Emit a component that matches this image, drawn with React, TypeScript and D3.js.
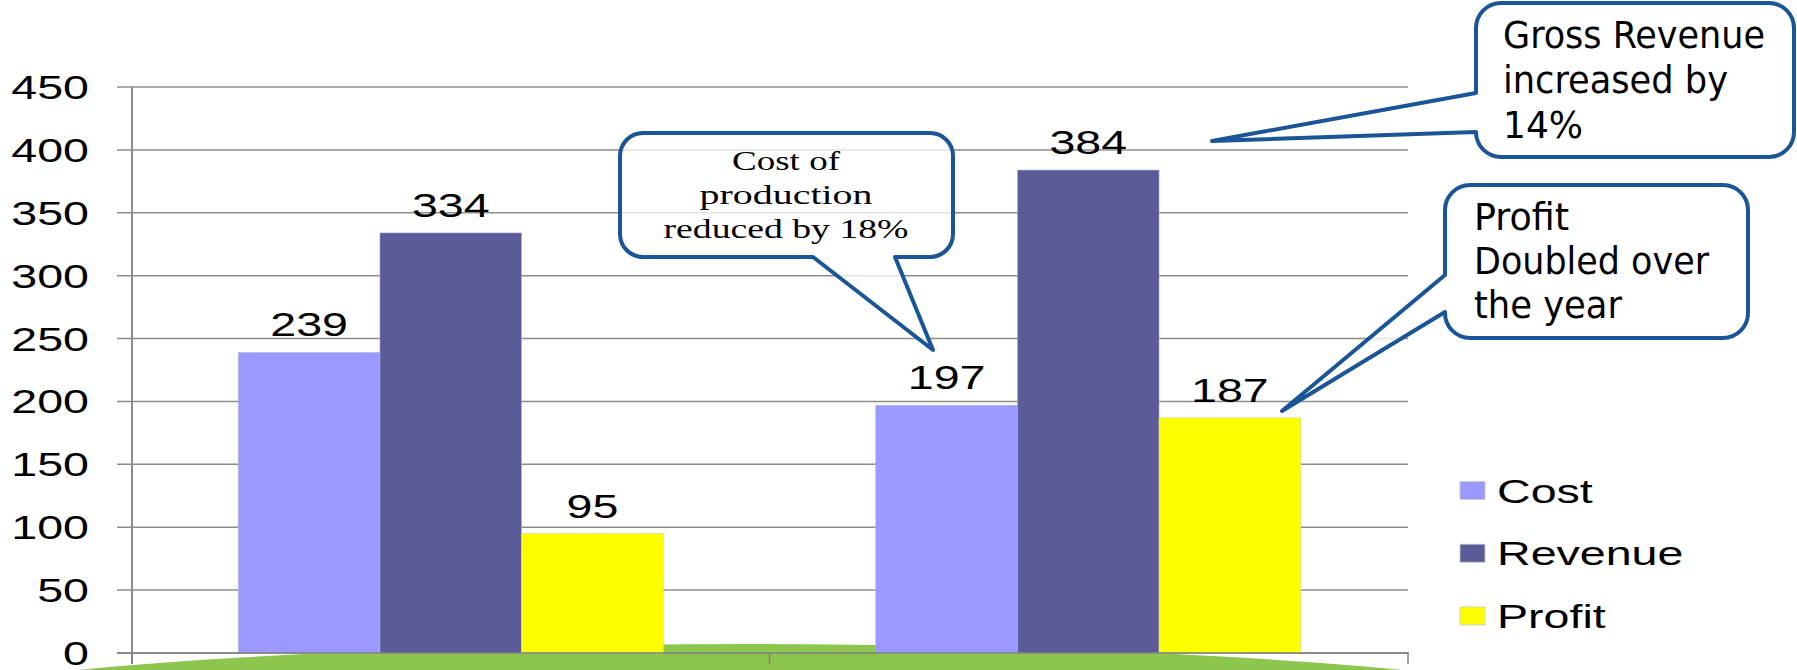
import React from "react";
import * as d3 from "d3";

const categories = ["Year 1", "Year 2"];
const seriesNames = ["Cost", "Revenue", "Profit"];
const costValues = [239, 197];
const revenueValues = [334, 384];
const profitValues = [95, 187];
const yTicks = [0, 50, 100, 150, 200, 250, 300, 350, 400, 450];
const seriesColors = ["#9999FF", "#5B5B97", "#FFFF00"];

const costNote = ["Cost of", "production", "reduced by 18%"];
const revenueNote = ["Gross Revenue", "increased by", "14%"];
const profitNote = ["Profit", "Doubled over", "the year"];

const W = 1797;
const H = 670;
const STRETCH = 1.37;
const CHART_FONT = "'Liberation Sans', Arial, sans-serif";
const NOTE_FONT = "'Liberation Sans Narrow', 'DejaVu Sans Condensed', 'Liberation Sans', sans-serif";
const SERIF_FONT = "'Liberation Serif', 'DejaVu Serif', serif";
const CALLOUT_STROKE = "#1A5597";

function SText({ x, y, anchor, children }: { x: number; y: number; anchor: string; children: any }) {
  return (
    <g transform={`translate(${x},${y}) scale(${STRETCH},1)`}>
      <text x={0} y={0} textAnchor={anchor} fontFamily={CHART_FONT} fontSize={34} fill="#000">
        {children}
      </text>
    </g>
  );
}

function boxBottomTail(x0: number, y0: number, x1: number, y1: number, r: number, b0: number, b1: number, tx: number, ty: number) {
  return `M${x0 + r},${y0} H${x1 - r} A${r},${r} 0 0 1 ${x1},${y0 + r} V${y1 - r} A${r},${r} 0 0 1 ${x1 - r},${y1} H${b1} L${tx},${ty} L${b0},${y1} H${x0 + r} A${r},${r} 0 0 1 ${x0},${y1 - r} V${y0 + r} A${r},${r} 0 0 1 ${x0 + r},${y0} Z`;
}

function boxLeftTail(x0: number, y0: number, x1: number, y1: number, r: number, b0: number, b1: number, tx: number, ty: number) {
  return `M${x0 + r},${y0} H${x1 - r} A${r},${r} 0 0 1 ${x1},${y0 + r} V${y1 - r} A${r},${r} 0 0 1 ${x1 - r},${y1} H${x0 + r} A${r},${r} 0 0 1 ${x0},${y1 - r} V${b1} L${tx},${ty} L${x0},${b0} V${y0 + r} A${r},${r} 0 0 1 ${x0 + r},${y0} Z`;
}

export default function App() {
  const left = 132;
  const right = 1407;
  const y = d3.scaleLinear().domain([0, 450]).range([653, 87]);
  const x0 = d3.scaleBand<string>().domain(categories).range([left, right]).paddingInner(0).paddingOuter(0);
  const barW = x0.bandwidth() / 4.5;
  const x1 = d3.scaleBand<string>().domain(seriesNames).range([barW * 0.75, barW * 3.75]).padding(0);
  const seriesValues = [costValues, revenueValues, profitValues];
  const y0 = y(0);
  const mid = (left + right) / 2 + 0;

  // decorative green ground shape
  const groundCx = 740;
  const groundCy = y0 + 71.5;
  const groundRx = 900;
  const groundRy = 80.5;

  return (
    <svg width={W} height={H} style={{ position: "absolute", left: 0, top: 0, display: "block" }}>
      <rect x={0} y={0} width={W} height={H} fill="#fff" />
      {/* gridlines */}
      {yTicks.map((t) => (
        <line key={"g" + t} x1={left - 15} x2={right + 1} y1={y(t)} y2={y(t)} stroke="#8c8c8c" strokeWidth={1.5} />
      ))}
      {/* green decorative shape */}
      <ellipse cx={groundCx} cy={groundCy} rx={groundRx} ry={groundRy} fill="#8DC64F" />
      {/* bars */}
      {categories.map((c, ci) =>
        seriesNames.map((s, si) => {
          const v = seriesValues[si][ci];
          const bx = (x0(c) as number) + (x1(s) as number);
          return (
            <rect
              key={c + s}
              x={bx}
              y={y(v)}
              width={x1.bandwidth()}
              height={y0 - y(v)}
              fill={seriesColors[si]}
              stroke={si === 2 ? "#d9d98c" : "#b8b8e0"}
              strokeWidth={0.6}
            />
          );
        })
      )}
      {/* axis lines */}
      <line x1={left - 15} x2={right + 2} y1={y0} y2={y0} stroke="#7f7f7f" strokeWidth={1.5} />
      <line x1={left} x2={left} y1={y(450)} y2={y0 + 11} stroke="#8c8c8c" strokeWidth={2} />
      {[left, mid, right + 1].map((xx, i) => (
        <line key={"t" + i} x1={xx} x2={xx} y1={y0} y2={y0 + 11} stroke="#7f7f7f" strokeWidth={1.5} />
      ))}
      {/* y tick labels */}
      {yTicks.map((t) => (
        <SText key={"l" + t} x={89} y={y(t) + 12} anchor="end">
          {t}
        </SText>
      ))}
      {/* data labels */}
      {categories.map((c, ci) =>
        seriesNames.map((s, si) => {
          const v = seriesValues[si][ci];
          const cx = (x0(c) as number) + (x1(s) as number) + x1.bandwidth() / 2;
          return (
            <SText key={"d" + c + s} x={cx} y={y(v) - 16} anchor="middle">
              {v}
            </SText>
          );
        })
      )}
      {/* legend */}
      {seriesNames.map((s, i) => (
        <g key={"lg" + s}>
          <rect x={1460} y={481.5 + i * 62.7} width={25} height={18} fill={seriesColors[i]} stroke="#c8c8c8" strokeWidth={0.8} />
          <SText x={1497} y={502.7 + i * 62.7} anchor="start">
            {s}
          </SText>
        </g>
      ))}
      {/* callouts */}
      <path
        d={boxBottomTail(620, 133, 953, 257, 23, 813, 895, 933, 350)}
        fill="#fff"
        fillOpacity={0.75}
        stroke={CALLOUT_STROKE}
        strokeWidth={4}
        strokeLinejoin="round"
      />
      {costNote.map((t, i) => (
        <text
          key={"cn" + i}
          x={786}
          y={170 + i * 34}
          textAnchor="middle"
          fontFamily={SERIF_FONT}
          fontSize={27}
          fill="#000"
          textLength={[108, 173, 245][i]}
          lengthAdjust="spacingAndGlyphs"
        >
          {t}
        </text>
      ))}
      <path
        d={boxLeftTail(1476, 3, 1794, 157, 25, 93, 132, 1212, 141)}
        fill="#fff"
        fillOpacity={0.75}
        stroke={CALLOUT_STROKE}
        strokeWidth={4}
        strokeLinejoin="round"
      />
      {revenueNote.map((t, i) => (
        <text
          key={"rn" + i}
          x={1503}
          y={48 + i * 45}
          textAnchor="start"
          fontFamily={NOTE_FONT}
          fontSize={37}
          fill="#000"
          textLength={[262, 225, 80][i]}
          lengthAdjust="spacingAndGlyphs"
        >
          {t}
        </text>
      ))}
      <path
        d={boxLeftTail(1445, 185, 1748, 338, 25, 275, 312, 1282, 411)}
        fill="#fff"
        fillOpacity={0.75}
        stroke={CALLOUT_STROKE}
        strokeWidth={4}
        strokeLinejoin="round"
      />
      {profitNote.map((t, i) => (
        <text
          key={"pn" + i}
          x={1474}
          y={230 + i * 44}
          textAnchor="start"
          fontFamily={NOTE_FONT}
          fontSize={37}
          fill="#000"
          textLength={[95, 235, 148][i]}
          lengthAdjust="spacingAndGlyphs"
        >
          {t}
        </text>
      ))}
    </svg>
  );
}
